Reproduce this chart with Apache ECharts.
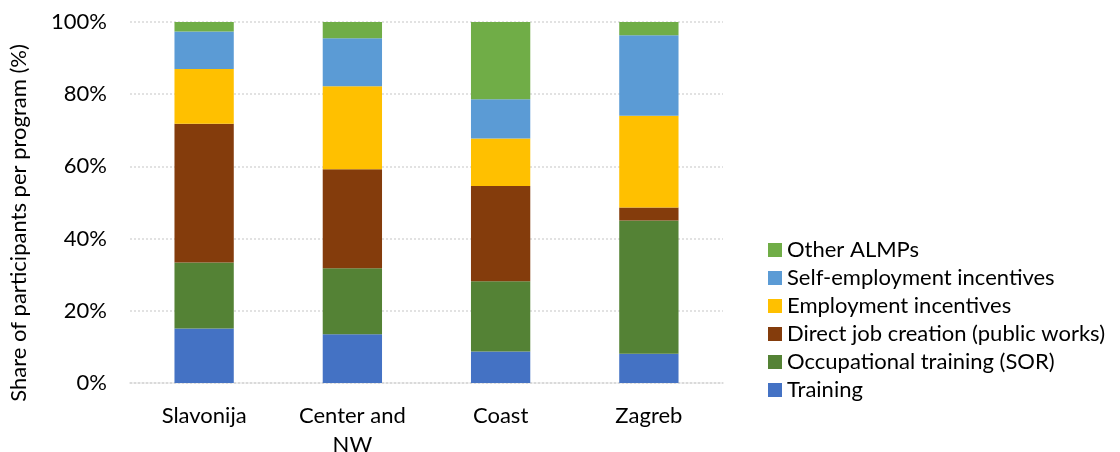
<!DOCTYPE html>
<html>
<head>
<meta charset="utf-8">
<script src="https://cdn.jsdelivr.net/npm/echarts@6/dist/echarts.min.js"></script>
<style>
  html, body { margin: 0; padding: 0; background: #fff; }
  #chart { width: 1120px; height: 452px; }
</style>
</head>
<body>
<div id="chart"></div>
<script>
// Regions and programme shares (% of participants)
const regions = ['Slavonija', 'Center and\nNW', 'Coast', 'Zagreb'];
const training        = [15.1, 13.5, 8.7, 8.1];
const occupational    = [18.3, 18.3, 19.5, 36.9];
const directJobs      = [38.4, 27.4, 26.4, 3.6];
const employmentInc   = [15.2, 23.0, 13.1, 25.4];
const selfEmployment  = [10.4, 13.3, 10.9, 22.3];
const otherAlmps      = [2.6, 4.5, 21.4, 3.7];
const yTicks = [0, 20, 40, 60, 80, 100];

const seriesDefs = [
  { name: 'Training', data: training, color: '#4472C4' },
  { name: 'Occupational training (SOR)', data: occupational, color: '#548235' },
  { name: 'Direct job creation (public works)', data: directJobs, color: '#843C0C' },
  { name: 'Employment incentives', data: employmentInc, color: '#FFC000' },
  { name: 'Self-employment incentives', data: selfEmployment, color: '#5B9BD5' },
  { name: 'Other ALMPs', data: otherAlmps, color: '#70AD47' }
];

const font = 'Lato, "Open Sans", sans-serif';
const chart = echarts.init(document.getElementById('chart'), null, { renderer: 'canvas' });

chart.setOption({
  animation: false,
  textStyle: { fontFamily: font, color: '#000' },
  grid: { left: 130, right: 397, top: 22, height: 361, containLabel: false, outerBoundsMode: 'none' },
  legend: {
    orient: 'vertical',
    left: 768,
    top: 239,
    padding: 0,
    itemWidth: 14,
    itemHeight: 14,
    itemGap: 6,
    icon: 'rect',
    data: seriesDefs.map(s => s.name).reverse(),
    textStyle: { fontFamily: font, fontSize: 22, color: '#000', lineHeight: 22 }
  },
  xAxis: {
    type: 'category',
    data: regions,
    axisTick: { show: false },
    axisLine: { show: true, lineStyle: { color: '#d9d9d9', type: [2, 2], width: 1.5 } },
    axisLabel: { fontFamily: font, fontSize: 22, color: '#000', margin: 18, lineHeight: 29 }
  },
  yAxis: {
    type: 'value',
    min: 0,
    max: 100,
    interval: 20,
    name: 'Share of participants per program (%)',
    nameLocation: 'middle',
    nameGap: 100,
    nameTextStyle: { fontFamily: font, fontSize: 22, color: '#000', padding: [0, 0, 0, -41] },
    axisLine: { show: false },
    axisTick: { show: false },
    axisLabel: {
      fontFamily: font, fontSize: 22, color: '#000', margin: 23,
      formatter: v => yTicks.includes(v) ? v + '%' : ''
    },
    splitLine: { lineStyle: { color: '#d9d9d9', type: [2, 2], width: 1.5 } }
  },
  series: seriesDefs.map(s => ({
    name: s.name,
    type: 'bar',
    stack: 'total',
    barWidth: '40%',
    data: s.data,
    itemStyle: { color: s.color }
  }))
});
</script>
</body>
</html>
